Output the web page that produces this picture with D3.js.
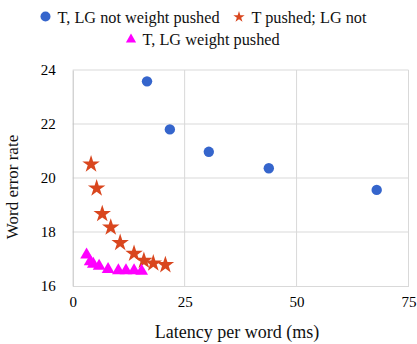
<!DOCTYPE html>
<html><head><meta charset="utf-8">
<script src="https://cdn.jsdelivr.net/npm/d3@7"></script>
<style>body{margin:0;background:#fff}svg{display:block}
svg text{font-family:'Liberation Serif','Times New Roman','Nimbus Roman','DejaVu Serif',serif !important}</style>
</head><body>
<svg id="c" width="417" height="344"></svg>
<script>
const seriesNames = ["T, LG not weight pushed", "T pushed; LG not", "T, LG weight pushed"];
const notPushedX = [16.6, 21.7, 30.4, 43.8, 67.9];
const notPushedY = [23.58, 21.8, 20.97, 20.36, 19.56];
const tPushedX = [4.1, 5.35, 6.6, 8.5, 10.6, 13.7, 15.9, 18.0, 20.7];
const tPushedY = [20.51, 19.62, 18.67, 18.17, 17.6, 17.2, 16.94, 16.84, 16.78];
const bothPushedX = [3.1, 3.9, 4.6, 5.9, 7.9, 10.2, 11.9, 13.7, 15.4];
const bothPushedY = [17.15, 16.9, 16.81, 16.74, 16.62, 16.57, 16.57, 16.57, 16.55];
const xTicks = [0, 25, 50, 75];
const yTicks = [16, 18, 20, 22, 24];

const svg = d3.select("#c");
const x = d3.scaleLinear().domain([0, 75]).range([72.7, 408.5]);
const y = d3.scaleLinear().domain([16, 24]).range([286, 70]);

// gridlines
svg.append("g").selectAll("line.h").data(yTicks.filter(d => d > 16)).join("line")
  .attr("x1", x(0)).attr("x2", x(75)).attr("y1", d => y(d)).attr("y2", d => y(d))
  .attr("stroke", "#d9d9d9").attr("stroke-width", 1);
svg.append("g").selectAll("line.v").data(xTicks.filter(d => d > 0)).join("line")
  .attr("x1", d => x(d)).attr("x2", d => x(d)).attr("y1", y(16)).attr("y2", y(24))
  .attr("stroke", "#d9d9d9").attr("stroke-width", 1);

// axes
const xa = svg.append("g").attr("transform", `translate(0,${y(16)})`)
  .call(d3.axisBottom(x).tickValues(xTicks).tickSize(0).tickPadding(10));
xa.attr("font-size", 15);
xa.select(".domain").attr("stroke", "#d9d9d9");
xa.selectAll("text").attr("fill", "#000");
const ya = svg.append("g").attr("transform", `translate(${x(0)},0)`)
  .call(d3.axisLeft(y).tickValues(yTicks).tickSize(0).tickPadding(17));
ya.attr("font-size", 15);
ya.select(".domain").attr("stroke", "#bfbfbf");
ya.selectAll("text").attr("fill", "#000");

// axis titles
svg.append("text").attr("x", 237).attr("y", 338).attr("text-anchor", "middle")
  .attr("font-size", 18).attr("fill", "#111").text("Latency per word (ms)");
svg.append("text").attr("transform", "translate(18,187) rotate(-90)").attr("text-anchor", "middle")
  .attr("font-size", 17).attr("fill", "#111").text("Word error rate");

const blue = "#3565cc", orange = "#d9461e", magenta = "#ff00ff";
const star = d3.symbol().type(d3.symbolStar).size(95);
const tri = d3.symbol().type(d3.symbolTriangle).size(70);

svg.append("g").selectAll("circle").data(notPushedX).join("circle")
  .attr("cx", d => x(d)).attr("cy", (d, i) => y(notPushedY[i])).attr("r", 5.2).attr("fill", blue);
svg.append("g").selectAll("path").data(tPushedX).join("path")
  .attr("d", star).attr("transform", (d, i) => `translate(${x(d)},${y(tPushedY[i])})`).attr("fill", orange);
svg.append("g").selectAll("path").data(bothPushedX).join("path")
  .attr("d", tri).attr("transform", (d, i) => `translate(${x(d)},${y(bothPushedY[i])})`).attr("fill", magenta);

// legend
const lg = svg.append("g").attr("font-size", 16.3).attr("fill", "#111");
lg.append("circle").attr("cx", 45.5).attr("cy", 16.5).attr("r", 5).attr("fill", blue);
lg.append("text").attr("x", 57.5).attr("y", 22.5).text(seriesNames[0]);
lg.append("path").attr("d", d3.symbol().type(d3.symbolStar).size(40)).attr("transform", "translate(239,17)").attr("fill", orange);
lg.append("text").attr("x", 251.5).attr("y", 22.5).text(seriesNames[1]);
lg.append("path").attr("d", d3.symbol().type(d3.symbolTriangle).size(45)).attr("transform", "translate(131,39.5)").attr("fill", magenta);
lg.append("text").attr("x", 142.5).attr("y", 45).text(seriesNames[2]);
</script>
</body></html>
